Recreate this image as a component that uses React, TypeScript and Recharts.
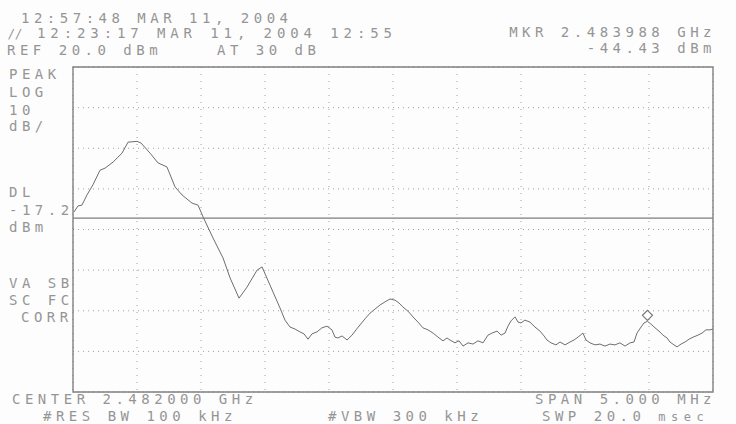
import React from 'react';
import { LineChart, Line, XAxis, YAxis, CartesianGrid, ReferenceLine, ReferenceArea, ReferenceDot } from 'recharts';

// sweep: 2.4795 .. 2.4845 GHz, values in MHz / dBm
const freqMHz = [
  2479.508, 2479.539, 2479.570, 2479.609, 2479.656, 2479.711, 2479.750, 2479.813, 2479.883, 2479.930,
  2480.000, 2480.031, 2480.102, 2480.164, 2480.234, 2480.297, 2480.352, 2480.430, 2480.477, 2480.516,
  2480.594, 2480.672, 2480.727, 2480.797, 2480.859, 2480.938, 2480.977, 2481.039, 2481.117, 2481.156,
  2481.195, 2481.234, 2481.273, 2481.305, 2481.336, 2481.367, 2481.406, 2481.445, 2481.484, 2481.523,
  2481.547, 2481.570, 2481.602, 2481.641, 2481.680, 2481.711, 2481.742, 2481.781, 2481.820, 2481.859,
  2481.898, 2481.938, 2481.977, 2482.016, 2482.047, 2482.078, 2482.117, 2482.156, 2482.195, 2482.234,
  2482.273, 2482.313, 2482.352, 2482.391, 2482.422, 2482.445, 2482.484, 2482.516, 2482.547, 2482.586,
  2482.625, 2482.664, 2482.703, 2482.742, 2482.773, 2482.813, 2482.844, 2482.875, 2482.898, 2482.922,
  2482.953, 2482.977, 2483.000, 2483.031, 2483.070, 2483.109, 2483.148, 2483.180, 2483.203, 2483.234,
  2483.273, 2483.305, 2483.344, 2483.383, 2483.414, 2483.445, 2483.484, 2483.508, 2483.539, 2483.578,
  2483.617, 2483.656, 2483.695, 2483.734, 2483.773, 2483.813, 2483.852, 2483.883, 2483.906, 2483.938,
  2483.961, 2483.988, 2484.023, 2484.047, 2484.078, 2484.109, 2484.141, 2484.164, 2484.195, 2484.219,
  2484.250, 2484.281, 2484.313, 2484.344, 2484.383, 2484.414, 2484.445, 2484.477, 2484.500,
];

const levelDbm = [
  -15.7, -14.2, -14.0, -11.5, -9.0, -5.4, -4.9, -3.4, -1.2, 1.5,
  1.7, 1.3, -1.2, -3.6, -4.6, -9.5, -11.5, -13.5, -14.0, -16.9,
  -22.1, -27.0, -31.9, -36.9, -34.2, -30.0, -29.2, -33.7, -39.3, -42.3,
  -44.0, -44.5, -45.2, -45.7, -47.0, -45.7, -45.2, -44.2, -43.8, -44.7,
  -46.5, -46.7, -46.2, -47.2, -46.0, -44.7, -43.5, -42.0, -40.6, -39.6,
  -38.6, -37.8, -37.1, -37.4, -38.1, -39.1, -40.1, -41.5, -42.8, -44.2,
  -44.7, -45.5, -46.5, -47.4, -46.7, -47.2, -47.9, -47.4, -48.7, -47.9,
  -48.2, -47.4, -47.9, -46.0, -45.5, -45.0, -46.0, -45.5, -43.8, -42.5,
  -41.5, -42.8, -43.0, -42.3, -42.8, -44.0, -45.0, -46.2, -47.2, -47.9,
  -48.4, -47.7, -48.4, -47.7, -47.2, -46.5, -45.5, -47.2, -47.9, -48.4,
  -48.2, -48.7, -48.2, -48.4, -47.9, -48.7, -47.9, -47.7, -45.5, -44.0,
  -43.0, -42.6, -43.5, -44.2, -45.0, -46.0, -46.7, -47.7, -48.4, -48.9,
  -48.2, -47.7, -47.0, -46.5, -46.0, -45.5, -44.7, -44.7, -44.5,
];

const xTicks = [2479.5, 2480, 2480.5, 2481, 2481.5, 2482, 2482.5, 2483, 2483.5, 2484, 2484.5];
const yTicks = [-60, -50, -40, -30, -20, -10, 0, 10, 20];

const displayLine = -17.2;
const markerFreq = 2483.988;
const markerLevel = -42.6;

const data = freqMHz.map((f, i) => ({ f, v: levelDbm[i] }));

const ink = '#959595';
const font = '"DejaVu Sans Mono", monospace';

const Diamond = (props: any) => {
  const { cx, cy } = props;
  const c = cy - 6;
  return (
    <path
      d={`M${cx},${c - 5} L${cx + 5},${c} L${cx},${c + 5} L${cx - 5},${c} Z`}
      fill="#fff"
      stroke="#777"
      strokeWidth={1.2}
    />
  );
};

const Label = ({ x, y, t, anchor }: { x: number; y: number; t: string; anchor?: string }) => (
  <text x={x} y={y} fill={ink} fontFamily={font} fontSize={14} letterSpacing={4.5} textAnchor={anchor || 'start'}>
    {t}
  </text>
);

export default function App() {
  return (
    <div style={{ position: 'absolute', left: 0, top: 0, width: 736, height: 424, background: '#fdfdfd' }}>
      <LineChart width={736} height={424} data={data} margin={{ top: 67, right: 23, bottom: 32, left: 73 }}>
        <XAxis dataKey="f" type="number" domain={[2479.5, 2484.5]} ticks={xTicks} hide />
        <YAxis type="number" domain={[-60, 20]} ticks={yTicks} hide />
        <CartesianGrid horizontal={false} stroke="#a0a0a0" strokeDasharray="1 6" />
        <CartesianGrid vertical={false} stroke="#a0a0a0" strokeDasharray="1 4" />
        <ReferenceArea x1={2479.5} x2={2484.5} y1={-60} y2={20} fill="none" stroke="#808080" strokeWidth={1.4} />
        <ReferenceLine y={displayLine} stroke="#7c7c7c" strokeWidth={1.1} />
        <Line dataKey="v" type="linear" stroke="#6e6e6e" strokeWidth={1} dot={false} isAnimationActive={false} />
        <ReferenceDot x={markerFreq} y={markerLevel} shape={Diamond} />
      </LineChart>
      <svg width={736} height={424} style={{ position: 'absolute', left: 0, top: 0, pointerEvents: 'none' }}>
        <defs>
          <clipPath id="cut">
            <rect x={0} y={0} width={394} height={60} />
          </clipPath>
        </defs>
        <Label x={21} y={23} t="12:57:48 MAR 11, 2004" />
        <text x={8} y={38} fill={ink} fontFamily={font} fontSize={12} fontStyle="italic">//</text>
        <g clipPath="url(#cut)">
          <text x={37} y={38} fill={ink} fontFamily={font} fontSize={14} letterSpacing={4.9}>
            12:23:17 MAR 11, 2004 12:55
          </text>
        </g>
        <Label x={7} y={55} t="REF 20.0 dBm" />
        <Label x={217} y={55} t="AT 30 dB" />
        <Label x={716} y={37} t="MKR 2.483988 GHz" anchor="end" />
        <Label x={716} y={53} t="-44.43 dBm" anchor="end" />

        <Label x={9} y={79} t="PEAK" />
        <Label x={9} y={97} t="LOG" />
        <Label x={9} y={115} t="10" />
        <Label x={9} y={131} t="dB/" />
        <Label x={9} y={197} t="DL" />
        <Label x={9} y={215} t="-17.2" />
        <Label x={9} y={232} t="dBm" />
        <Label x={9} y={288} t="VA SB" />
        <Label x={9} y={305} t="SC FC" />
        <Label x={21} y={322} t="CORR" />

        <Label x={12} y={404} t="CENTER 2.482000 GHz" />
        <Label x={43} y={421} t="#RES BW 100 kHz" />
        <Label x={328} y={421} t="#VBW 300 kHz" />
        <Label x={535} y={404} t="SPAN 5.000 MHz" />
        <text x={542} y={421} fill={ink} fontFamily={font} fontSize={14} letterSpacing={4.5}>
          SWP 20.0 <tspan fontSize={12} letterSpacing={5.5}>msec</tspan>
        </text>
      </svg>
    </div>
  );
}
